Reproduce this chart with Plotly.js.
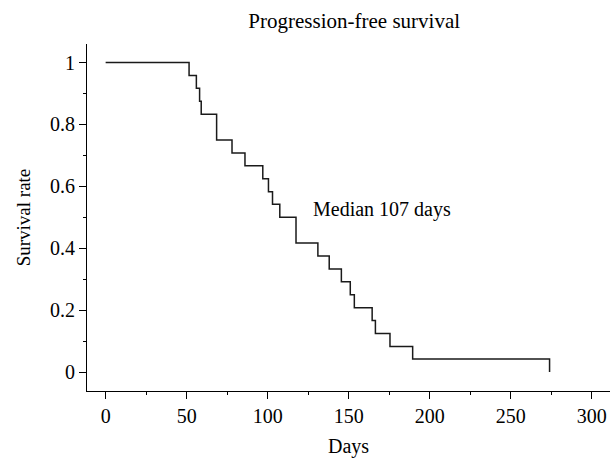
<!DOCTYPE html>
<html>
<head>
<meta charset="utf-8">
<script src="https://cdn.plot.ly/plotly-3.0.1.min.js"></script>
<style>html,body{margin:0;padding:0;background:#fff;}#chart{width:616px;height:458px;}</style>
</head>
<body>
<div id="chart"></div>
<script>
// Kaplan-Meier step points (day of event, survival after event)
const days = [0, 51.5, 56, 58, 59, 68.5, 78, 86, 97, 100.5, 103, 107.5, 117.5, 131, 138, 145.5, 151, 153.5, 164.5, 166.5, 175.5, 189.5, 274];
const survival = [1, 0.958, 0.917, 0.875, 0.833, 0.75, 0.708, 0.667, 0.625, 0.583, 0.542, 0.5, 0.417, 0.375, 0.333, 0.292, 0.25, 0.208, 0.167, 0.125, 0.083, 0.042, 0];
const xTicks = [0, 50, 100, 150, 200, 250, 300];
const yTicks = [0, 0.2, 0.4, 0.6, 0.8, 1];
const yTickLabels = ['0', '0.2', '0.4', '0.6', '0.8', '1'];
const medianLabel = 'Median 107 days';
const medianPos = {x: 127, y: 0.525};

const FONT = 'Liberation Serif, Times New Roman, serif';

const trace = {
  x: days, y: survival,
  type: 'scatter', mode: 'lines',
  line: {shape: 'hv', color: '#1a1a1a', width: 1.5},
  hoverinfo: 'skip'
};

const layout = {
  width: 616, height: 458,
  margin: {l: 87, r: 6, t: 44, b: 67},
  paper_bgcolor: '#fff', plot_bgcolor: '#fff',
  showlegend: false,
  font: {family: FONT, size: 20, color: '#000'},
  title: {text: 'Progression-free survival', x: 0.575, xanchor: 'center', y: 0.955, yanchor: 'middle', font: {family: FONT, size: 21, color: '#000'}},
  xaxis: {
    range: [-11.5, 311.3],
    tickvals: xTicks, ticktext: xTicks.map(String),
    ticks: 'outside', ticklen: 7, tickwidth: 1, tickcolor: '#000',
    minor: {dtick: 25, tick0: 0, ticks: 'outside', ticklen: 3, tickcolor: '#000', tickwidth: 1},
    showline: true, linecolor: '#000', linewidth: 1,
    showgrid: false, zeroline: false,
    tickfont: {family: FONT, size: 20, color: '#000'},
    title: {text: 'Days', font: {family: FONT, size: 20, color: '#000'}, standoff: 14}
  },
  yaxis: {
    range: [-0.061, 1.06],
    tickvals: yTicks, ticktext: yTickLabels,
    ticks: 'outside', ticklen: 7, tickwidth: 1, tickcolor: '#000',
    minor: {dtick: 0.1, tick0: 0, ticks: 'outside', ticklen: 3, tickcolor: '#000', tickwidth: 1},
    showline: true, linecolor: '#000', linewidth: 1,
    showgrid: false, zeroline: false,
    tickfont: {family: FONT, size: 20, color: '#000'},
    title: {text: 'Survival rate', font: {family: FONT, size: 19, color: '#000'}, standoff: 14}
  },
  annotations: [{
    x: medianPos.x, y: medianPos.y, xref: 'x', yref: 'y',
    text: medianLabel, showarrow: false, xanchor: 'left', yanchor: 'middle',
    font: {family: FONT, size: 20, color: '#000'}
  }]
};

Plotly.newPlot('chart', [trace], layout, {staticPlot: true, displayModeBar: false});
</script>
</body>
</html>
